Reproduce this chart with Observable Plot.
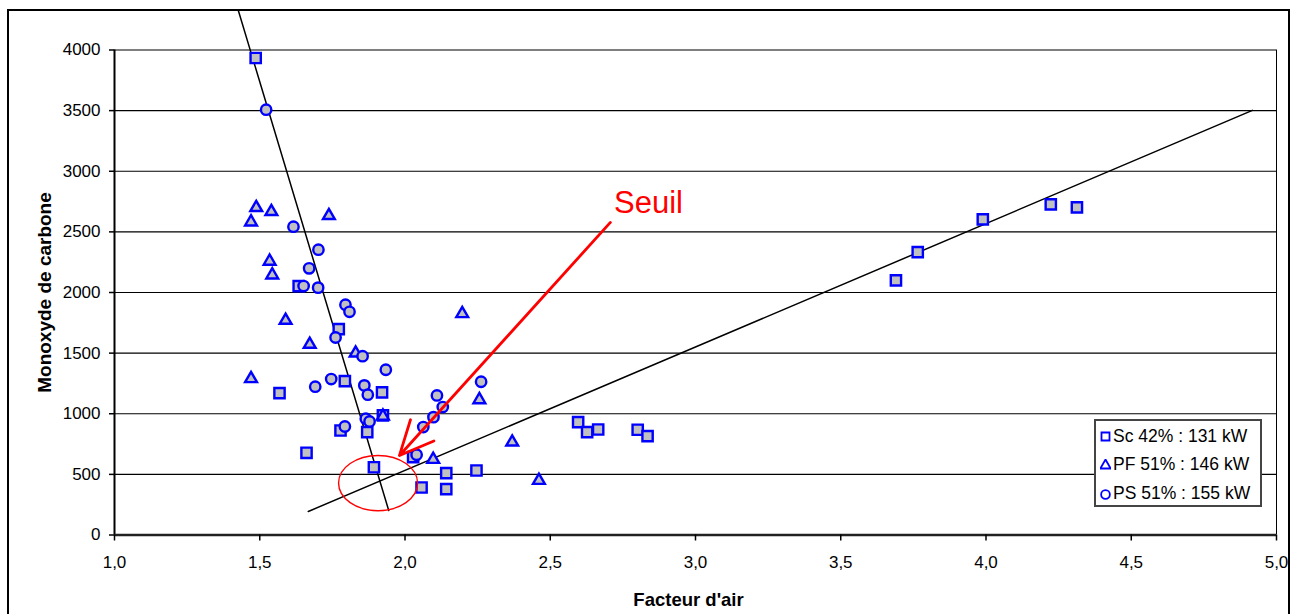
<!DOCTYPE html>
<html><head><meta charset="utf-8">
<script src="https://cdn.jsdelivr.net/npm/d3@7"></script>
<script src="https://cdn.jsdelivr.net/npm/@observablehq/plot@0.6"></script>
<style>
body{margin:0;background:#fff;}
#wrap{position:relative;width:1299px;height:614px;overflow:hidden;background:#fff;font-family:"Liberation Sans",Arial,sans-serif;}
#frame{position:absolute;left:7px;top:9px;width:1283px;height:640px;border:2px solid #000;box-sizing:border-box;pointer-events:none;}
#legend{position:absolute;left:1094px;top:419px;width:168px;height:88px;border:2px solid #444;box-sizing:border-box;background:#fff;font-size:17.5px;color:#000;}
#legend .row{position:absolute;left:4px;height:20px;display:flex;align-items:center;white-space:nowrap;}
#legend svg{margin-right:2px;}
</style></head><body>
<div id="wrap"><div id="frame"></div></div>
<script>
// ---- data ----
const xTicks = [1.0, 1.5, 2.0, 2.5, 3.0, 3.5, 4.0, 4.5, 5.0];
const xTickLabels = ["1,0", "1,5", "2,0", "2,5", "3,0", "3,5", "4,0", "4,5", "5,0"];
const yTicks = [0, 500, 1000, 1500, 2000, 2500, 3000, 3500, 4000];
const seriesNames = ["Sc 42% : 131 kW", "PF 51% : 146 kW", "PS 51% : 155 kW"];
const xTitle = "Facteur d'air";
const yTitle = "Monoxyde de carbone";

// Sc 42% : 131 kW (squares)
const scFacteur = [1.486, 1.634, 1.772, 1.568, 1.793, 1.921, 1.924, 1.778, 1.870, 1.661, 1.893, 2.028, 2.057, 2.142, 2.142, 2.246, 2.596, 2.627, 2.665, 2.801, 2.835, 3.690, 3.765, 3.989, 4.223, 4.313];
const scCO      = [3934, 2053, 1698, 1170, 1269, 1176, 986, 862, 848, 678, 559, 642, 392, 510, 378, 532, 931, 848, 870, 868, 815, 2100, 2333, 2603, 2727, 2702];
// PF 51% : 146 kW (triangles)
const pfFacteur = [1.488, 1.540, 1.470, 1.738, 1.534, 1.543, 1.589, 1.672, 1.470, 1.830, 1.924, 2.197, 2.256, 2.369, 2.097, 2.461];
const pfCO      = [2700, 2667, 2581, 2634, 2257, 2144, 1770, 1572, 1289, 1500, 980, 1825, 1115, 766, 623, 450];
// PS 51% : 155 kW (circles)
const psFacteur = [1.522, 1.616, 1.702, 1.670, 1.651, 1.701, 1.795, 1.809, 1.761, 1.854, 1.934, 1.746, 1.691, 1.860, 1.872, 1.865, 1.878, 1.793, 2.063, 2.110, 2.130, 2.098, 2.262, 2.040];
const psCO      = [3508, 2543, 2353, 2199, 2053, 2040, 1899, 1841, 1629, 1475, 1363, 1286, 1223, 1234, 1157, 959, 936, 895, 890, 1151, 1055, 972, 1264, 662];

// trend lines (end points)
const trendRich = [{x: 1.426, y: 4328}, {x: 1.944, y: 202}];
const trendLean = [{x: 1.667, y: 194}, {x: 4.917, y: 3502}];
// "Seuil" annotation
const seuilLabel = [{x: 2.838, y: 2739, text: "Seuil"}];
const seuilArrow = [{x1: 2.707, y1: 2578, x2: 1.981, y2: 656}];
const seuilEllipse = {x: 1.909, y: 424, dx: 0.136, dy: 228};

const toRows = (xs, ys) => xs.map((x, i) => ({x, y: ys[i]}));
const sc = toRows(scFacteur, scCO), pf = toRows(pfFacteur, pfCO), ps = toRows(psFacteur, psCO);

const blue = "#0000ff", grey = "#c0c0c0";

const chart = Plot.plot({
  width: 1299, height: 614,
  marginLeft: 114, marginRight: 23, marginTop: 49.5, marginBottom: 79.5,
  style: {fontFamily: "'Liberation Sans', Arial, sans-serif", fontSize: "17px", background: "transparent", overflow: "visible"},
  x: {domain: [1, 5]},
  y: {domain: [0, 4000]},
  marks: [
    Plot.ruleY(yTicks, {stroke: "#000", strokeWidth: 1.2}),
    Plot.ruleX([1], {y1: 0, y2: 4000, stroke: "#000", strokeWidth: 2}),
    Plot.ruleX([5], {y1: 0, y2: 4000, stroke: "#000", strokeWidth: 1}),
    Plot.ruleY([0], {stroke: "#222", strokeWidth: 2.5}),
    Plot.axisX({ticks: xTicks, tickFormat: (d, i) => xTickLabels[i], tickSize: 6, tickPadding: 15, fontSize: 17, label: null, stroke: "#000", strokeWidth: 1.5}),
    Plot.axisY({ticks: yTicks, tickSize: 5, tickPadding: 9, fontSize: 17, label: null, tickFormat: d => String(d), stroke: "#000", strokeWidth: 1.5}),
    Plot.text([xTitle], {frameAnchor: "bottom", textAnchor: "middle", lineAnchor: "middle", dx: -7, dy: 65.5, fontWeight: "bold", fontSize: 18.5, fill: "#000"}),
    Plot.text([yTitle], {frameAnchor: "left", textAnchor: "middle", lineAnchor: "middle", dx: -70, rotate: -90, fontWeight: "bold", fontSize: 19, fill: "#000"}),
    Plot.line(trendRich, {x: "x", y: "y", stroke: "#000", strokeWidth: 1.5}),
    Plot.line(trendLean, {x: "x", y: "y", stroke: "#000", strokeWidth: 1.5}),
    Plot.dot(sc, {x: "x", y: "y", symbol: "square", r: 5.8, stroke: blue, fill: grey, strokeWidth: 2.4}),
    Plot.dot(pf, {x: "x", y: "y", symbol: "triangle", r: 4.4, stroke: blue, fill: grey, strokeWidth: 2.4}),
    Plot.dot(ps, {x: "x", y: "y", symbol: "circle", r: 5.2, stroke: blue, fill: grey, strokeWidth: 2.4}),
    Plot.arrow(seuilArrow, {x1: "x1", y1: "y1", x2: "x2", y2: "y2", stroke: "#ff0000", strokeWidth: 2.8, headLength: 20, headAngle: 50}),
    Plot.text(seuilLabel, {x: "x", y: "y", text: "text", fill: "#ff0000", fontSize: 31})
  ]
});

// ellipse drawn through the plot's own scales
const sx = chart.scale("x"), sy = chart.scale("y");
const cx = sx.apply(seuilEllipse.x), cy = sy.apply(seuilEllipse.y);
d3.select(chart).append("ellipse")
  .attr("cx", cx).attr("cy", cy)
  .attr("rx", sx.apply(seuilEllipse.x + seuilEllipse.dx) - cx)
  .attr("ry", cy - sy.apply(seuilEllipse.y + seuilEllipse.dy))
  .attr("fill", "none").attr("stroke", "#ff0000").attr("stroke-width", 1.4);

const wrap = document.getElementById("wrap");
chart.style.position = "absolute"; chart.style.left = "0"; chart.style.top = "0";
wrap.insertBefore(chart, wrap.firstChild);

// legend
const legend = document.createElement("div");
legend.id = "legend";
const symbols = [d3.symbolSquare, d3.symbolTriangle, d3.symbolCircle];
const symSize = [64, 46, 60];
seriesNames.forEach((name, i) => {
  const row = document.createElement("div");
  row.className = "row";
  row.style.top = (5 + i * 28.8) + "px";
  const s = d3.create("svg").attr("width", 11).attr("height", 12);
  s.append("path").attr("d", d3.symbol(symbols[i], symSize[i])()).attr("transform", "translate(5.5,6.5)")
    .attr("fill", "#fff").attr("stroke", blue).attr("stroke-width", 1.8);
  row.appendChild(s.node());
  const t = document.createElement("span");
  t.textContent = name;
  row.appendChild(t);
  legend.appendChild(row);
});
wrap.appendChild(legend);
</script>
</body></html>
